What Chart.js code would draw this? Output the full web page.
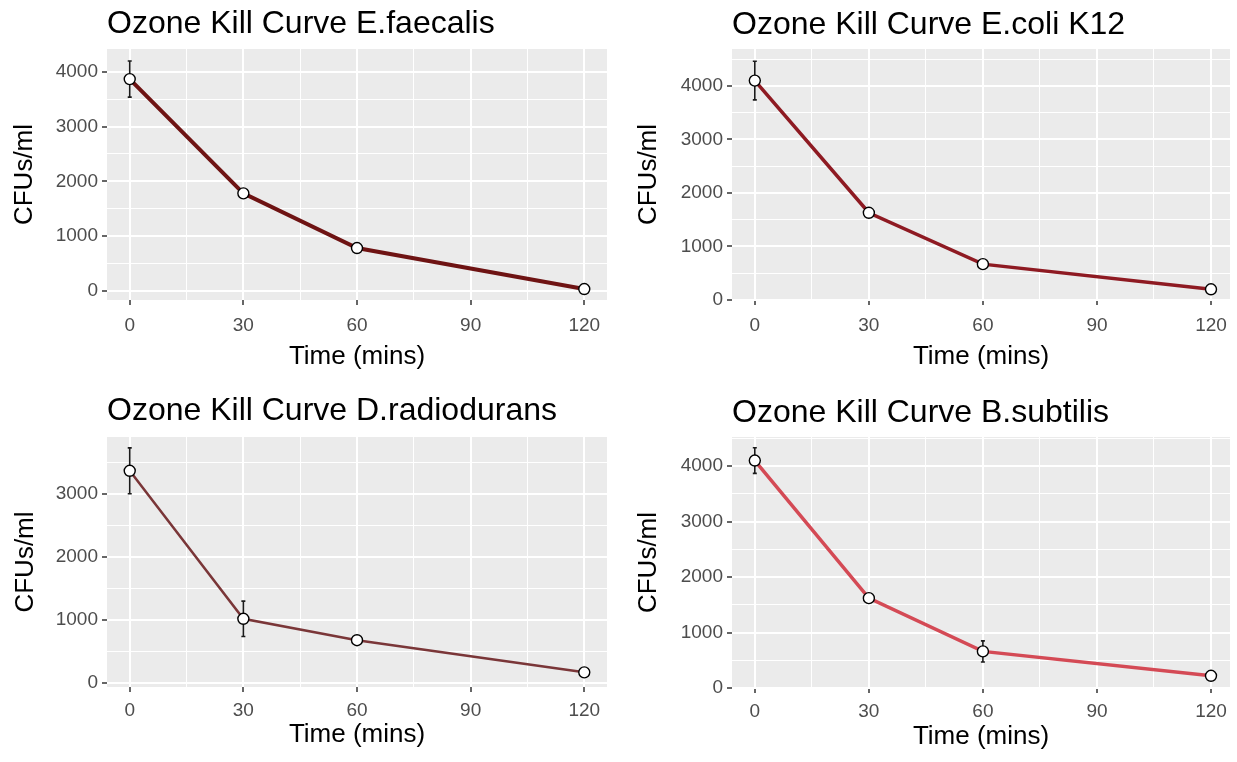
<!DOCTYPE html>
<html>
<head>
<meta charset="utf-8">
<title>Ozone Kill Curves</title>
<script src="https://cdn.jsdelivr.net/npm/chart.js@4/dist/chart.umd.min.js"></script>
<style>
  html, body { margin: 0; padding: 0; background: #fff; }
  #wrap { position: relative; width: 1237px; height: 762px; overflow: hidden; }
  canvas { position: absolute; }
</style>
</head>
<body>
<div id="wrap">
  <canvas id="c1" width="619" height="381" style="left:0;top:0"></canvas>
  <canvas id="c2" width="618" height="381" style="left:619px;top:0"></canvas>
  <canvas id="c3" width="619" height="381" style="left:0;top:381px"></canvas>
  <canvas id="c4" width="618" height="381" style="left:619px;top:381px"></canvas>
</div>
<script>
// time points (mins) and axis ticks
const times = [0, 30, 60, 120];
const xGrid = [0, 15, 30, 45, 60, 75, 90, 105, 120];
const xLabels = [0, 30, 60, 90, 120];
const yGrid = [0, 500, 1000, 1500, 2000, 2500, 3000, 3500, 4000, 4500];
const yLabels = [0, 1000, 2000, 3000, 4000];

// CFUs/ml means and error half-widths
const faecalisMean = [3870, 1780, 780, 30];
const faecalisErr = [330, 40, 40, 20];
const coliMean = [4100, 1630, 670, 200];
const coliErr = [360, 50, 40, 30];
const radioduransMean = [3370, 1020, 680, 170];
const radioduransErr = [365, 280, 40, 40];
const subtilisMean = [4100, 1620, 660, 220];
const subtilisErr = [230, 60, 190, 30];

const FONT = "'Liberation Sans', Arial, sans-serif";

// grey ggplot-like panel background
const panelBg = {
    id: 'panelBg',
    beforeDraw(chart) {
        const { ctx, chartArea: a } = chart;
        ctx.save();
        ctx.fillStyle = '#ebebeb';
        ctx.fillRect(a.left, a.top, a.right - a.left, a.bottom - a.top);
        ctx.restore();
    }
};

// vertical error bars with tiny caps
const errorBars = {
    id: 'errorBars',
    beforeDatasetsDraw(chart) {
        const { ctx, scales: { x, y } } = chart;
        const ds = chart.data.datasets[0];
        ctx.save();
        ctx.strokeStyle = '#1a1a1a';
        ctx.lineWidth = 1.6;
        ds.data.forEach((pt, i) => {
            const px = x.getPixelForValue(pt.x);
            const top = y.getPixelForValue(pt.y + ds.errors[i]);
            const bot = y.getPixelForValue(pt.y - ds.errors[i]);
            ctx.beginPath();
            ctx.moveTo(px, top); ctx.lineTo(px, bot);
            ctx.moveTo(px - 2, top); ctx.lineTo(px + 2, top);
            ctx.moveTo(px - 2, bot); ctx.lineTo(px + 2, bot);
            ctx.stroke();
        });
        ctx.restore();
    }
};

function makePanel(p) {
    return new Chart(document.getElementById(p.id), {
        type: 'line',
        data: {
            datasets: [{
                data: times.map((t, i) => ({ x: t, y: p.mean[i] })),
                errors: p.err,
                borderColor: p.color,
                borderWidth: p.lineWidth,
                pointRadius: 5.5,
                pointBackgroundColor: '#fff',
                pointBorderColor: '#000',
                pointBorderWidth: 1.4,
                tension: 0
            }]
        },
        options: {
            responsive: false,
            animation: false,
            devicePixelRatio: 1,
            layout: { padding: { left: 0, right: p.padRight, top: 0, bottom: 0 } },
            plugins: {
                legend: { display: false },
                tooltip: { enabled: false },
                title: {
                    display: true,
                    text: p.title,
                    align: 'start',
                    fullSize: false,
                    color: '#000',
                    font: { family: FONT, size: 32, weight: 'normal' },
                    padding: p.titlePad
                }
            },
            scales: {
                x: {
                    type: 'linear',
                    min: -6,
                    max: p.xMax,
                    afterBuildTicks: (s) => { s.ticks = xGrid.map(v => ({ value: v })); },
                    afterFit: (s) => { s.height = p.xAxisHeight; },
                    border: { display: false },
                    grid: {
                        color: '#fff',
                        lineWidth: (c) => xLabels.includes(c.tick.value) ? 2 : 1,
                        tickColor: (c) => xLabels.includes(c.tick.value) ? '#333' : 'rgba(0,0,0,0)',
                        tickLength: 5,
                        tickWidth: 1.5
                    },
                    ticks: {
                        autoSkip: false,
                        maxRotation: 0,
                        padding: p.xTickPad,
                        color: '#4d4d4d',
                        font: { family: FONT, size: 19 },
                        callback: (v) => xLabels.includes(v) ? String(v) : ''
                    },
                    title: {
                        display: true,
                        text: 'Time (mins)',
                        color: '#000',
                        font: { family: FONT, size: 26 },
                        padding: { top: 0, bottom: p.xTitlePad }
                    }
                },
                y: {
                    type: 'linear',
                    min: p.yMin,
                    max: p.yMax,
                    afterBuildTicks: (s) => {
                        s.ticks = yGrid.filter(v => v >= p.yMin && v <= p.yMax).map(v => ({ value: v }));
                    },
                    afterFit: (s) => { s.width = p.yAxisWidth; },
                    border: { display: false },
                    grid: {
                        color: '#fff',
                        lineWidth: (c) => yLabels.includes(c.tick.value) ? 2 : 1,
                        tickColor: (c) => yLabels.includes(c.tick.value) ? '#333' : 'rgba(0,0,0,0)',
                        tickLength: 5,
                        tickWidth: 1.5
                    },
                    ticks: {
                        autoSkip: false,
                        padding: 4,
                        color: '#4d4d4d',
                        font: { family: FONT, size: 19 },
                        callback: (v) => yLabels.includes(v) ? String(v) : ''
                    },
                    title: {
                        display: true,
                        text: 'CFUs/ml',
                        color: '#000',
                        font: { family: FONT, size: 26 },
                        padding: { top: p.yTitlePad, bottom: 0 }
                    }
                }
            }
        },
        plugins: [panelBg, errorBars]
    });
}

makePanel({
    id: 'c1', title: 'Ozone Kill Curve E.faecalis',
    mean: faecalisMean, err: faecalisErr, color: '#6e1313', lineWidth: 4,
    xMax: 126, yMin: -170, yMax: 4420,
    yAxisWidth: 107, padRight: 12, xAxisHeight: 81,
    titlePad: { top: 4.8, bottom: 5.8 }, yTitlePad: 9.1, xTitlePad: 8.4, xTickPad: 9
});
makePanel({
    id: 'c2', title: 'Ozone Kill Curve E.coli K12',
    mean: coliMean, err: coliErr, color: '#8e1a22', lineWidth: 3.5,
    xMax: 125, yMin: 0, yMax: 4690,
    yAxisWidth: 113, padRight: 7, xAxisHeight: 81,
    titlePad: { top: 5.8, bottom: 4.8 }, yTitlePad: 14, xTitlePad: 8.4, xTickPad: 9
});
makePanel({
    id: 'c3', title: 'Ozone Kill Curve D.radiodurans',
    mean: radioduransMean, err: radioduransErr, color: '#7a3638', lineWidth: 2.5,
    xMax: 126, yMin: -63, yMax: 3907,
    yAxisWidth: 107, padRight: 12, xAxisHeight: 75,
    titlePad: { top: 10.8, bottom: 6.8 }, yTitlePad: 10.1, xTitlePad: 11.4, xTickPad: 7
});
makePanel({
    id: 'c4', title: 'Ozone Kill Curve B.subtilis',
    mean: subtilisMean, err: subtilisErr, color: '#d44a55', lineWidth: 3.5,
    xMax: 125, yMin: 0, yMax: 4525,
    yAxisWidth: 113, padRight: 7, xAxisHeight: 74,
    titlePad: { top: 12.8, bottom: 4.8 }, yTitlePad: 14, xTitlePad: 9.4, xTickPad: 7
});
</script>
</body>
</html>
